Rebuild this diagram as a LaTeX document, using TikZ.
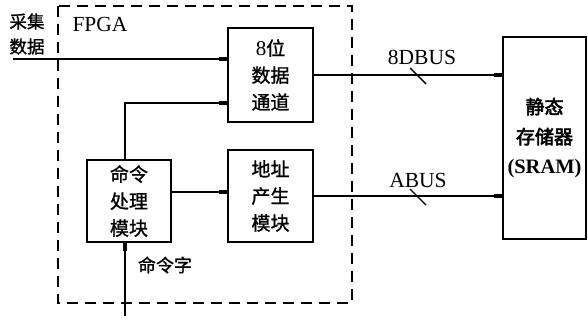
\documentclass[tikz,border=0pt]{standalone}
\usepackage{fontspec}
\setmainfont{Liberation Serif}
\newfontfamily\cjk[FakeBold=1.2]{Noto Sans CJK SC}
\newfontfamily\cjkb[FakeBold=3]{Noto Sans CJK SC}
\usetikzlibrary{arrows.meta}
\begin{document}
\begin{tikzpicture}[x=1pt,y=-1pt,
  blk/.style={draw,line width=2.2pt,inner sep=0pt,align=center,
    font=\fontsize{19}{27}\selectfont\cjk},
  conn/.style={line width=1.4pt},
  tipend/.style={conn,-{Rectangle[length=8pt,width=3.6pt]}},
  lbl/.style={inner sep=0pt,font=\fontsize{21.5}{22}\selectfont},
  cjklbl/.style={inner sep=0pt,font=\fontsize{18}{25}\selectfont\cjk,align=center}]
\useasboundingbox (0,0) rectangle (588,320);
% FPGA dashed boundary
\draw[line width=1.4pt,dash pattern=on 11pt off 7pt] (58,6) rectangle (352,303);
\node[lbl] (fpga) at (100,24) {FPGA};
% blocks
\node[blk,minimum width=85pt,minimum height=94pt] (dp) at (270.5,75)
  {{\fontspec{Liberation Serif}\fontsize{21}{27}\selectfont 8}位\\数据\\通道};
\node[blk,minimum width=85pt,minimum height=92pt] (addr) at (270.5,196)
  {地址\\产生\\模块};
\node[blk,minimum width=84pt,minimum height=82pt] (cmd) at (129,201)
  {命令\\处理\\模块};
\node[blk,minimum width=83pt,minimum height=202pt,font=\fontsize{19}{30}\selectfont\cjkb] (sram) at (544.5,138)
  {静态\\存储器\\{\fontspec{Liberation Serif}\fontsize{20.5}{30}\selectfont\bfseries (SRAM)}};
% inputs
\node[cjklbl,font=\fontsize{17.5}{25}\selectfont\cjk] (cj) at (27,34) {采集\\数据};
\coordinate (din) at (13,59);
\draw[tipend] (din) -- (din -| dp.west);
\coordinate (cmdtop) at ([xshift=-4pt]cmd.north);
\draw[tipend] (cmdtop) |- ([yshift=-28pt]dp.west);
\draw[tipend] ([yshift=9pt]cmd.east) -- ([yshift=4pt]addr.west);
\coordinate (cw) at (125,316);
\draw[tipend] (cw) -- ([xshift=-4pt]cmd.south);
\node[cjklbl] (cwl) at (165,265) {命令字};
% buses
\draw[tipend] (dp.east) -- (dp.east -| sram.west);
\draw[tipend] (addr.east) -- (addr.east -| sram.west);
\coordinate (t1) at (418,76);
\coordinate (t2) at (418,197);
\draw[conn] ([shift={(-8pt,8pt)}]t1) -- ([shift={(8pt,-8pt)}]t1);
\draw[conn] ([shift={(-8pt,8pt)}]t2) -- ([shift={(8pt,-8pt)}]t2);
\node[lbl] (db) at (422,57) {8DBUS};
\node[lbl] (ab) at (418,180) {ABUS};
\end{tikzpicture}
\end{document}
